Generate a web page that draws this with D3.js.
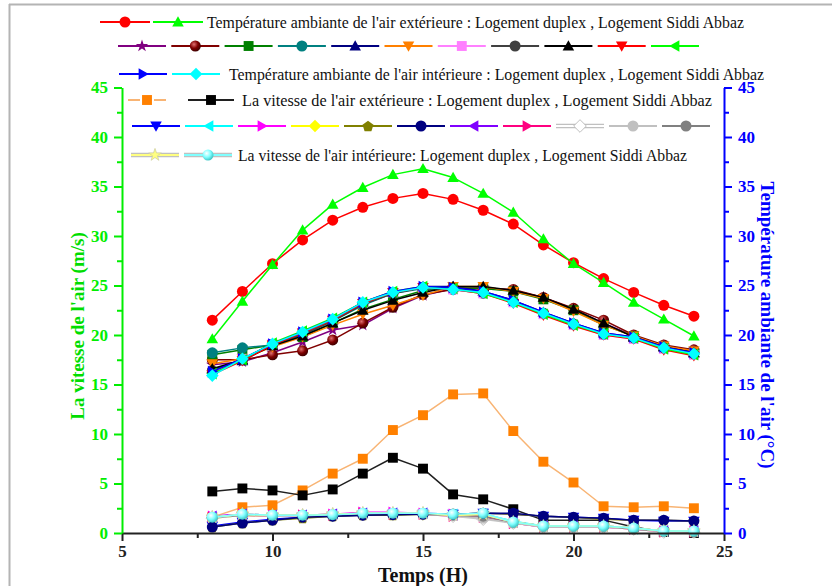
<!DOCTYPE html>
<html>
<head>
<meta charset="utf-8">
<script src="https://cdn.jsdelivr.net/npm/d3@7"></script>
<style>
  html, body { margin: 0; padding: 0; background: #fff; }
  svg { display: block; font-family: "Liberation Serif", "Times New Roman", serif; }
</style>
</head>
<body>
<svg id="chart" width="832" height="586"></svg>
<script>
// ---- Data -------------------------------------------------------------
const hours = [8, 9, 10, 11, 12, 13, 14, 15, 16, 17, 18, 19, 20, 21, 22, 23, 24];

// Température ambiante de l'air extérieure (°C)
const tExtDuplex = [21.5, 24.4, 27.2, 29.6, 31.6, 32.9, 33.8, 34.3, 33.7, 32.6, 31.2, 29.1, 27.3, 25.7, 24.3, 23.0, 21.9];
const tExtSiddi  = [19.6, 23.4, 27.1, 30.6, 33.2, 34.9, 36.2, 36.8, 35.9, 34.3, 32.4, 29.7, 27.2, 25.3, 23.3, 21.6, 19.9];

// Températures intérieures des autres pièces (°C)
const tRoom1  = [17.0, 17.3, 18.2, 19.3, 20.5, 21.0, 22.7, 24.0, 24.7, 24.8, 24.5, 23.8, 22.6, 21.2, 19.9, 18.9, 18.4];
const tRoom2  = [17.5, 17.5, 18.0, 18.4, 19.5, 21.2, 22.8, 24.1, 24.6, 24.7, 24.6, 23.8, 22.7, 21.5, 20.0, 19.0, 18.5];
const tRoom3  = [18.0, 18.5, 19.0, 19.8, 21.2, 22.6, 23.6, 24.5, 24.8, 24.7, 24.4, 23.6, 22.5, 21.0, 19.9, 18.8, 18.3];
const tRoom4  = [18.2, 18.7, 19.0, 20.0, 21.4, 23.0, 24.2, 24.7, 24.6, 24.2, 23.4, 22.2, 21.1, 20.1, 19.7, 18.8, 18.2];
const tRoom5  = [16.5, 17.4, 19.0, 20.2, 21.5, 23.2, 24.3, 24.9, 24.9, 24.4, 23.5, 22.3, 21.2, 20.2, 19.8, 18.8, 18.2];
const tRoom6  = [17.1, 17.6, 18.8, 19.8, 21.0, 22.1, 23.0, 24.0, 24.9, 24.9, 24.4, 23.7, 22.4, 21.0, 19.9, 18.9, 18.4];
const tRoom7  = [16.2, 17.6, 19.1, 20.2, 21.6, 23.2, 24.3, 24.8, 24.6, 24.2, 23.3, 22.1, 21.0, 20.0, 19.6, 18.6, 18.0];
const tRoom8  = [16.4, 17.5, 19.0, 20.1, 21.4, 23.1, 24.2, 24.8, 24.7, 24.3, 23.4, 22.2, 21.1, 20.1, 19.7, 18.7, 18.1];
const tRoom9  = [16.6, 17.5, 18.9, 19.9, 21.2, 22.5, 23.5, 24.3, 24.9, 24.9, 24.5, 23.8, 22.6, 21.2, 19.8, 18.8, 18.2];
const tRoom10 = [16.0, 17.4, 19.0, 20.2, 21.5, 23.2, 24.3, 24.8, 24.6, 24.2, 23.2, 22.0, 20.9, 20.0, 19.6, 18.5, 17.9];
const tRoom11 = [16.1, 17.5, 19.2, 20.4, 21.7, 23.3, 24.4, 24.9, 24.7, 24.2, 23.3, 22.1, 21.0, 20.1, 19.7, 18.6, 18.0];

// Température ambiante de l'air intérieure (°C)
const tIntDuplex = [16.3, 17.6, 19.1, 20.3, 21.6, 23.3, 24.4, 24.9, 24.8, 24.4, 23.5, 22.3, 21.2, 20.2, 19.8, 18.8, 18.2];
const tIntSiddi  = [15.9, 17.6, 19.1, 20.3, 21.6, 23.3, 24.3, 24.8, 24.6, 24.3, 23.3, 22.2, 21.1, 20.1, 19.7, 18.7, 18.1];

// La vitesse de l'air extérieure (m/s)
const vExtDuplex = [1.6, 2.6, 2.8, 4.3, 6.0, 7.5, 10.4, 11.9, 14.0, 14.1, 10.3, 7.2, 5.1, 2.7, 2.6, 2.7, 2.5];
const vExtSiddi  = [4.2, 4.5, 4.3, 3.8, 4.4, 6.0, 7.6, 6.5, 3.9, 3.4, 2.4, 1.3, 1.3, 1.3, 0.6, 0.1, 0.0];

// Vitesses de l'air des autres pièces (m/s)
const vRoom1  = [0.7, 1.1, 1.4, 1.6, 1.7, 1.8, 1.9, 1.9, 1.9, 2.0, 1.9, 1.7, 1.6, 1.5, 1.3, 1.2, 1.2];
const vRoom2  = [1.6, 1.9, 1.8, 1.8, 1.9, 2.0, 2.0, 2.0, 1.9, 1.9, 1.2, 0.7, 0.7, 0.7, 0.4, 0.2, 0.2];
const vRoom3  = [1.7, 1.9, 1.8, 1.8, 1.9, 2.1, 2.1, 2.0, 1.9, 1.8, 1.0, 0.6, 0.6, 0.6, 0.4, 0.2, 0.2];
const vRoom4  = [1.5, 1.8, 1.7, 1.7, 1.8, 1.9, 1.9, 1.9, 1.8, 1.9, 1.1, 0.7, 0.7, 0.7, 0.5, 0.2, 0.1];
const vRoom5  = [0.6, 1.0, 1.3, 1.5, 1.7, 1.8, 1.8, 1.9, 1.9, 2.0, 1.9, 1.7, 1.6, 1.4, 1.3, 1.3, 1.2];
const vRoom6  = [0.6, 1.0, 1.3, 1.6, 1.7, 1.8, 1.85, 1.9, 1.9, 2.0, 2.0, 1.7, 1.6, 1.5, 1.3, 1.3, 1.2];
const vRoom7  = [1.7, 1.9, 1.8, 1.8, 1.9, 2.0, 2.0, 2.0, 1.8, 1.9, 1.1, 0.7, 0.7, 0.7, 0.5, 0.2, 0.2];
const vRoom8  = [1.6, 1.8, 1.7, 1.8, 1.8, 2.0, 1.9, 1.9, 1.7, 1.6, 1.0, 0.6, 0.6, 0.6, 0.4, 0.1, 0.1];
const vRoom9  = [1.5, 1.8, 1.7, 1.7, 1.8, 1.9, 1.9, 1.9, 1.7, 1.4, 1.0, 0.6, 0.6, 0.6, 0.4, 0.1, 0.1];
const vRoom10 = [1.5, 1.8, 1.8, 1.8, 1.8, 1.9, 1.9, 1.9, 1.8, 1.5, 1.0, 0.6, 0.6, 0.6, 0.4, 0.2, 0.1];
const vRoom11 = [1.6, 1.8, 1.8, 1.8, 1.8, 1.9, 1.9, 1.9, 1.8, 1.7, 1.1, 0.7, 0.7, 0.7, 0.4, 0.2, 0.1];

// La vitesse de l'air intérieure (m/s)
const vIntDuplex = [1.6, 1.9, 1.8, 1.8, 1.9, 2.0, 2.0, 2.0, 1.8, 1.9, 1.1, 0.7, 0.7, 0.7, 0.5, 0.2, 0.2];
const vIntSiddi  = [1.6, 1.9, 1.8, 1.8, 1.85, 2.0, 2.0, 2.0, 1.9, 2.0, 1.1, 0.7, 0.7, 0.7, 0.5, 0.2, 0.2];

// Tick labels
const xTicks = [5, 10, 15, 20, 25];
const xMinor = [7.5, 12.5, 17.5, 22.5];
const yTicks = [0, 5, 10, 15, 20, 25, 30, 35, 40, 45];
const yMinor = [2.5, 7.5, 12.5, 17.5, 22.5, 27.5, 32.5, 37.5, 42.5];

// Legend texts
const legendTexts = [
  "Température ambiante de l'air extérieure : Logement duplex , Logement Siddi Abbaz",
  "Température ambiante de l'air intérieure :  Logement duplex , Logement Siddi Abbaz",
  "La vitesse de l'air extérieure : Logement duplex , Logement Siddi Abbaz",
  "La vitesse de l'air intérieure: Logement duplex , Logement Siddi Abbaz"
];

// ---- Series styling ---------------------------------------------------
const tempSeries = [
  { values: tExtDuplex, color: "#ff0000", shape: "circle",  row: 0 },
  { values: tExtSiddi,  color: "#00ff00", shape: "triUp",   row: 0 },
  { values: tRoom1,  color: "#800080", shape: "star",     row: 1 },
  { values: tRoom2,  color: "#800000", shape: "sphere", grad: "gMaroon", row: 1 },
  { values: tRoom3,  color: "#008000", shape: "square",   row: 1 },
  { values: tRoom4,  color: "#008080", shape: "circle",   row: 1 },
  { values: tRoom5,  color: "#000080", shape: "triUp",    row: 1 },
  { values: tRoom6,  color: "#ff8000", shape: "triDown",  row: 1 },
  { values: tRoom7,  color: "#ff80ff", shape: "square",   row: 1 },
  { values: tRoom8,  color: "#404040", shape: "circle",   row: 1 },
  { values: tRoom9,  color: "#000000", shape: "triUp",    row: 1 },
  { values: tRoom10, color: "#ff0000", shape: "triDown",  row: 1 },
  { values: tRoom11, color: "#00ff00", shape: "triLeft",  row: 1 },
  { values: tIntDuplex, color: "#0000ff", shape: "triRight", row: 2 },
  { values: tIntSiddi,  color: "#00ffff", shape: "diamond",  row: 2 }
];
const speedSeries = [
  { values: vExtDuplex, color: "#ff8000", line: "#f8b474", shape: "square", row: 3, gap: true },
  { values: vExtSiddi,  color: "#000000", line: "#202020", shape: "square", row: 3 },
  { values: vRoom1,  color: "#0000ff", shape: "triDown",  row: 4 },
  { values: vRoom2,  color: "#00ffff", shape: "triLeft",  row: 4 },
  { values: vRoom3,  color: "#ff00ff", shape: "triRight", row: 4 },
  { values: vRoom4,  color: "#ffff00", shape: "diamond",  row: 4 },
  { values: vRoom5,  color: "#808000", shape: "pentagon", row: 4 },
  { values: vRoom6,  color: "#000080", shape: "circle",   row: 4 },
  { values: vRoom7,  color: "#8000ff", shape: "triLeft",  row: 4 },
  { values: vRoom8,  color: "#ff0080", shape: "triRight", row: 4 },
  { values: vRoom9,  color: "#ffffff", shape: "diamond",  row: 4, outline: "#b0b0b0", double: true },
  { values: vRoom10, color: "#c0c0c0", shape: "circle",   row: 4 },
  { values: vRoom11, color: "#808080", shape: "circle",   row: 4 },
  { values: vIntDuplex, color: "#ffff80", shape: "star",   row: 5, outline: "#d0d0a0", double: true },
  { values: vIntSiddi,  color: "#80ffff", shape: "sphere", grad: "gCyan", row: 5, double: true }
];

// ---- Canvas -----------------------------------------------------------
const svg = d3.select("#chart");
const W = 832, H = 586;

const defs = svg.append("defs");
function sphereGradient(id, hi, mid, lo) {
  const g = defs.append("radialGradient").attr("id", id)
    .attr("cx", "38%").attr("cy", "35%").attr("r", "65%");
  g.append("stop").attr("offset", "0%").attr("stop-color", hi);
  g.append("stop").attr("offset", "55%").attr("stop-color", mid);
  g.append("stop").attr("offset", "100%").attr("stop-color", lo);
}
sphereGradient("gMaroon", "#e07070", "#800000", "#400000");
sphereGradient("gCyan", "#ffffff", "#80ffff", "#40c8c8");

svg.append("rect").attr("width", W).attr("height", H).attr("fill", "#fff");

// page frame
svg.append("line").attr("x1", 9.5).attr("x2", 9.5).attr("y1", 4).attr("y2", H)
  .attr("stroke", "#b4b4b4").attr("stroke-width", 2);
svg.append("line").attr("x1", 9).attr("x2", W).attr("y1", 4.5).attr("y2", 4.5)
  .attr("stroke", "#b4b4b4").attr("stroke-width", 2);

// ---- Scales -----------------------------------------------------------
const x = d3.scaleLinear().domain([5, 25]).range([122, 724]);
const yL = d3.scaleLinear().domain([0, 45]).range([533, 87.5]);
const yR = d3.scaleLinear().domain([0, 45]).range([533, 87.5]);

// ---- Marker shapes ----------------------------------------------------
function poly(pts) { return "M" + pts.map(p => p[0].toFixed(2) + "," + p[1].toFixed(2)).join("L") + "Z"; }
function markerPath(shape, s) {
  const h = s / 2;
  switch (shape) {
    case "circle":
    case "sphere": return d3.symbol(d3.symbolCircle, Math.PI * h * h)();
    case "square": return poly([[-h * 0.9, -h * 0.9], [h * 0.9, -h * 0.9], [h * 0.9, h * 0.9], [-h * 0.9, h * 0.9]]);
    case "triUp": return poly([[0, -h * 1.05], [h * 1.05, h * 0.8], [-h * 1.05, h * 0.8]]);
    case "triDown": return poly([[0, h * 1.05], [h * 1.05, -h * 0.8], [-h * 1.05, -h * 0.8]]);
    case "triLeft": return poly([[-h * 1.05, 0], [h * 0.8, -h * 1.05], [h * 0.8, h * 1.05]]);
    case "triRight": return poly([[h * 1.05, 0], [-h * 0.8, -h * 1.05], [-h * 0.8, h * 1.05]]);
    case "diamond": return poly([[0, -h * 1.15], [h * 1.15, 0], [0, h * 1.15], [-h * 1.15, 0]]);
    case "star": return d3.symbol(d3.symbolStar, s * s * 0.4)();
    case "pentagon": {
      const pts = d3.range(5).map(i => {
        const a = -Math.PI / 2 + i * 2 * Math.PI / 5;
        return [Math.cos(a) * h * 1.05, Math.sin(a) * h * 1.05 + 0.5];
      });
      return poly(pts);
    }
  }
}
function markerFill(d) { return d.shape === "sphere" ? `url(#${d.grad})` : d.color; }

// ---- Plot series ------------------------------------------------------
const plot = svg.append("g");
function drawSeries(list, yScale) {
  list.forEach(s => {
    const line = d3.line().x((d, i) => x(hours[i])).y(d => yScale(d));
    plot.append("path").datum(s.values)
      .attr("d", line).attr("fill", "none")
      .attr("stroke", s.line || (s.color === "#ffffff" ? "#c8c8c8" : s.color))
      .attr("stroke-width", 1.5).attr("stroke-linejoin", "round");
    plot.append("g").selectAll("path").data(s.values).join("path")
      .attr("d", markerPath(s.shape, 11))
      .attr("transform", (d, i) => `translate(${x(hours[i])},${yScale(d)})`)
      .attr("fill", markerFill(s))
      .attr("stroke", s.outline || "none").attr("stroke-width", s.outline ? 0.8 : 0);
  });
}
drawSeries(tempSeries, yR);
// the navy "room" speed series sits on top of the light ones at low values
drawSeries(speedSeries.filter(s => s.color !== "#000080"), yL);
drawSeries(speedSeries.filter(s => s.color === "#000080"), yL);
drawSeries(speedSeries.filter(s => s.row === 5), yL);

// ---- Axes -------------------------------------------------------------
const tickFont = "bold 17px 'Liberation Serif', serif";
function styleAxis(g, color) {
  g.select(".domain").attr("stroke", color).attr("stroke-width", 2);
  g.selectAll(".tick line").attr("stroke", color).attr("stroke-width", 2);
  g.selectAll(".tick text").attr("fill", color).style("font", tickFont);
}

// bottom
const gx = svg.append("g").attr("transform", "translate(0,533)")
  .call(d3.axisBottom(x).tickValues(xTicks).tickSize(8).tickSizeOuter(0).tickPadding(4).tickFormat(d3.format("d")));
styleAxis(gx, "#222");
svg.append("g").attr("transform", "translate(0,533)")
  .call(d3.axisBottom(x).tickValues(xMinor).tickSize(5).tickFormat(""))
  .call(g => { g.select(".domain").remove(); g.selectAll(".tick line").attr("stroke", "#222").attr("stroke-width", 2); });

// left (speed)
const gl = svg.append("g").attr("transform", "translate(122,0)")
  .call(d3.axisLeft(yL).tickValues(yTicks).tickSize(8).tickSizeOuter(0).tickPadding(6).tickFormat(d3.format("d")));
styleAxis(gl, "#00ee00");
svg.append("g").attr("transform", "translate(122,0)")
  .call(d3.axisLeft(yL).tickValues(yMinor).tickSize(5).tickFormat(""))
  .call(g => { g.select(".domain").remove(); g.selectAll(".tick line").attr("stroke", "#00ee00").attr("stroke-width", 2); });

// right (temperature)
const gr = svg.append("g").attr("transform", "translate(724,0)")
  .call(d3.axisRight(yR).tickValues(yTicks).tickSize(8).tickSizeOuter(0).tickPadding(6).tickFormat(d3.format("d")));
styleAxis(gr, "#0000ff");
svg.append("g").attr("transform", "translate(724,0)")
  .call(d3.axisRight(yR).tickValues(yMinor).tickSize(5).tickFormat(""))
  .call(g => { g.select(".domain").remove(); g.selectAll(".tick line").attr("stroke", "#0000ff").attr("stroke-width", 2); });

// axis titles
svg.append("text").attr("transform", "translate(77,326) rotate(-90)")
  .attr("text-anchor", "middle").attr("dominant-baseline", "central")
  .attr("fill", "#00dd00").style("font", "bold 19px 'Liberation Serif', serif")
  .text("La vitesse de l'air (m/s)");
svg.append("text").attr("transform", "translate(767,325) rotate(90)")
  .attr("text-anchor", "middle").attr("dominant-baseline", "central")
  .attr("fill", "#0000ff").style("font", "bold 19px 'Liberation Serif', serif")
  .text("Température ambiante de l'air (°C)");
svg.append("text").attr("x", 423).attr("y", 582)
  .attr("text-anchor", "middle").attr("fill", "#111")
  .style("font", "bold 20px 'Liberation Serif', serif")
  .text("Temps (H)");

// ---- Legend -----------------------------------------------------------
const legend = svg.append("g");
function sample(s, cx, cy, half) {
  const g = legend.append("g");
  if (s.gap) {
    g.append("line").attr("x1", cx - half).attr("x2", cx - 7).attr("y1", cy).attr("y2", cy)
      .attr("stroke", s.line).attr("stroke-width", 2);
    g.append("line").attr("x1", cx + 7).attr("x2", cx + half).attr("y1", cy).attr("y2", cy)
      .attr("stroke", s.line).attr("stroke-width", 2);
  } else if (s.double) {
    g.append("line").attr("x1", cx - half).attr("x2", cx + half).attr("y1", cy).attr("y2", cy)
      .attr("stroke", "#c0c0c0").attr("stroke-width", 4.5);
    g.append("line").attr("x1", cx - half).attr("x2", cx + half).attr("y1", cy).attr("y2", cy)
      .attr("stroke", s.color).attr("stroke-width", 2);
  } else {
    g.append("line").attr("x1", cx - half).attr("x2", cx + half).attr("y1", cy).attr("y2", cy)
      .attr("stroke", s.line || s.color).attr("stroke-width", 2);
  }
  g.append("path").attr("d", markerPath(s.shape, 11))
    .attr("transform", `translate(${cx},${cy})`)
    .attr("fill", markerFill(s))
    .attr("stroke", s.outline || "none").attr("stroke-width", s.outline ? 0.8 : 0);
}
const legendFont = "16px 'Liberation Serif', serif";
function legendText(str, x0, x1, cy) {
  legend.append("text").attr("x", x0).attr("y", cy + 5.5)
    .attr("textLength", x1 - x0).attr("lengthAdjust", "spacingAndGlyphs")
    .attr("fill", "#111").style("font", legendFont).text(str);
}

// row 0: outdoor temperature
sample(tempSeries[0], 125, 22, 25);
sample(tempSeries[1], 178, 22, 25);
legendText(legendTexts[0], 207, 744, 22);
// row 1: room temperatures
tempSeries.filter(s => s.row === 1).forEach((s, i) => sample(s, 142 + 53.3 * i, 46, 24));
// row 2: indoor temperature
sample(tempSeries[13], 143, 74, 24);
sample(tempSeries[14], 196, 74, 24);
legendText(legendTexts[1], 229, 764, 74);
// row 3: outdoor speed
sample(speedSeries[0], 147, 100, 19);
sample(speedSeries[1], 211, 100, 23);
legendText(legendTexts[2], 242, 712, 100);
// row 4: room speeds
speedSeries.filter(s => s.row === 4).forEach((s, i) => sample(s, 156 + 53 * i, 126, 24));
// row 5: indoor speed
sample(speedSeries[13], 155, 155, 24);
sample(speedSeries[14], 208, 155, 24);
legendText(legendTexts[3], 238, 687, 155);
</script>
</body>
</html>
